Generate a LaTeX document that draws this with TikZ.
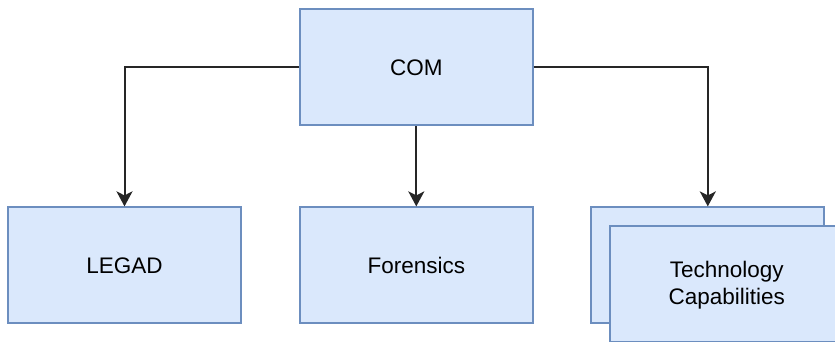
\documentclass[tikz,border=0pt]{standalone}
\usepackage{fontspec}
\setmainfont{Liberation Sans}
\usetikzlibrary{positioning,arrows.meta}

\definecolor{boxfill}{HTML}{DAE8FC}
\definecolor{boxline}{HTML}{6C8EBF}

\begin{document}
\begin{tikzpicture}[x=1pt,y=1pt,
	every node/.style={draw=boxline,fill=boxfill,line width=1.8pt,minimum width=233pt,minimum height=116pt,inner sep=0pt,align=center,font=\fontsize{22.5}{27}\selectfont},
	link/.style={-{Stealth[length=15pt,width=16pt,inset=4pt]},line width=2pt,color=black!85}]

\clip (0,0) rectangle (835,341);

\node(com) at (416.3,273.7) {COM};
\node(legad) at (124.5,75.7) {LEGAD};
\node(forensics) at (416.3,75.7) {Forensics};
\node(techback) at (707.8,75.7) {};
\node(tech) at (726.8,56.7) {\strut Technology\\Capabilities};

\draw[link](com.west)-|(legad.north);
\draw[link](com)to(forensics);
\draw[link](com.east)-|(techback.north);
\end{tikzpicture}
\end{document}
